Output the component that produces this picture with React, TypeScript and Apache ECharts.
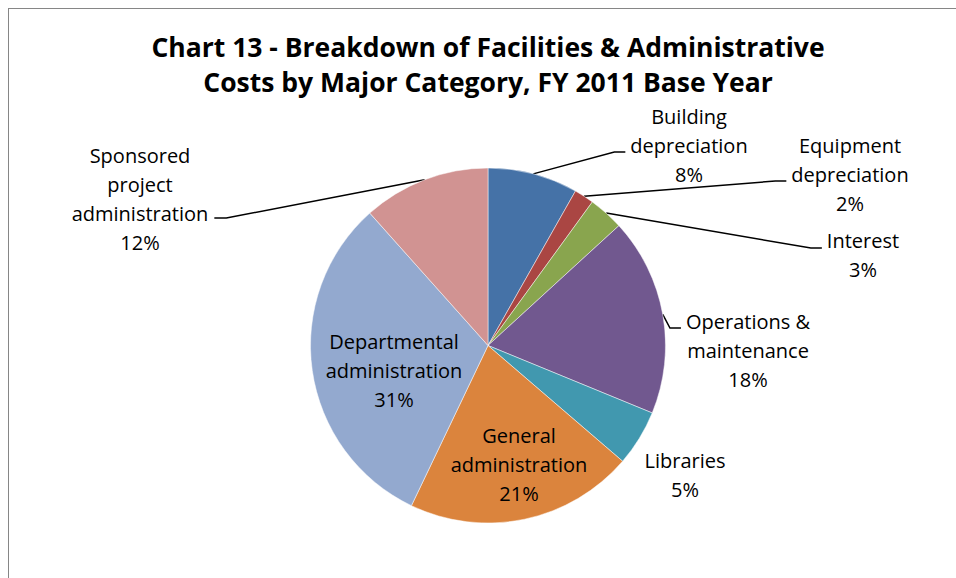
import React, { useEffect, useRef } from "react";
import * as echarts from "echarts";

// ---- data ----
const categories = [
  "Building depreciation",
  "Equipment depreciation",
  "Interest",
  "Operations & maintenance",
  "Libraries",
  "General administration",
  "Departmental administration",
  "Sponsored project administration",
];
const labelTexts = [
  "Building\ndepreciation",
  "Equipment\ndepreciation",
  "Interest",
  "Operations &\nmaintenance",
  "Libraries",
  "General\nadministration",
  "Departmental\nadministration",
  "Sponsored\nproject\nadministration",
];
const values = [8.2, 1.8, 3.2, 18.0, 5.1, 20.8, 31.3, 11.6];
const colors = ["#4572A7", "#AA4643", "#89A54E", "#71588F", "#4198AF", "#DB843D", "#93A9CF", "#D19392"];
const titleText = "Chart 13 - Breakdown of Facilities & Administrative\nCosts by Major Category, FY 2011 Base Year";

// ---- label layout (chart pixel coords) ----
type LabelCfg = { x: number; y: number; side: "left" | "right" | "none"; lineDy: number };
const labelLayoutCfg: LabelCfg[] = [
  { x: 681, y: 137, side: "right", lineDy: 7 },
  { x: 842, y: 166, side: "right", lineDy: 7 },
  { x: 855, y: 247, side: "right", lineDy: -7 },
  { x: 740, y: 342, side: "right", lineDy: -22 },
  { x: 677, y: 467, side: "none", lineDy: 0 },
  { x: 511, y: 456, side: "none", lineDy: 0 },
  { x: 386, y: 362, side: "none", lineDy: 0 },
  { x: 132, y: 191, side: "left", lineDy: 19 },
];

const FONT = "'Open Sans', Lato, sans-serif";

export default function App() {
  const ref = useRef<HTMLDivElement>(null);
  useEffect(() => {
    if (!ref.current) return;
    const chart = echarts.init(ref.current, null, { renderer: "svg" });
    chart.setOption({
      animation: false,
      backgroundColor: "#fff",
      title: {
        text: titleText,
        left: "center",
        top: 16,
        textStyle: {
          fontFamily: FONT,
          fontWeight: "bold",
          fontSize: 26.5,
          lineHeight: 35,
          color: "#000",
        },
      },
      graphic: [
        {
          type: "rect",
          silent: true,
          z: 100,
          shape: { x: 0, y: 0, width: 2000, height: 2000 },
          style: { fill: "none", stroke: "#868686", lineWidth: 2 },
        },
      ],
      series: [
        {
          type: "pie",
          center: ["50%", 337.5],
          radius: 177.5,
          startAngle: 90,
          clockwise: true,
          avoidLabelOverlap: false,
          itemStyle: { borderColor: "rgba(255,255,255,0.6)", borderWidth: 0.8 },
          label: {
            show: true,
            position: "outside",
            fontFamily: FONT,
            fontSize: 20,
            lineHeight: 29,
            color: "#000",
            formatter: (p: any) => labelTexts[p.dataIndex] + "\n" + Math.round(p.percent) + "%",
          },
          labelLine: {
            show: true,
            smooth: false,
            length: 10,
            length2: 10,
            lineStyle: { color: "#000", width: 1.5 },
          },
          labelLayout: (params: any) => {
            const cfg = labelLayoutCfg[params.dataIndex];
            const res: any = { x: cfg.x, y: cfg.y, align: "center", verticalAlign: "middle" };
            const pts = params.labelLinePoints;
            if (cfg.side !== "none" && pts && pts.length) {
              const w = params.labelRect.width;
              const ly = cfg.y + cfg.lineDy;
              if (cfg.side === "right") {
                const endX = cfg.x - w / 2 - 5;
                res.labelLinePoints = [pts[0], [endX - 11, ly], [endX, ly]];
              } else {
                const endX = cfg.x + w / 2 + 6;
                res.labelLinePoints = [pts[0], [endX + 12, ly], [endX, ly]];
              }
            }
            return res;
          },
          data: categories.map((name, i) => ({
            name,
            value: values[i],
            itemStyle: { color: colors[i] },
            labelLine: { show: labelLayoutCfg[i].side !== "none" },
          })),
        },
      ],
    });
    return () => chart.dispose();
  }, []);
  return (
    <div
      style={{
        position: "absolute",
        left: 0,
        top: 0,
        width: 956,
        height: 578,
        overflow: "hidden",
        background: "#fff",
      }}
    >
      <div ref={ref} style={{ position: "absolute", left: 8, top: 8, width: 960, height: 590 }} />
    </div>
  );
}
